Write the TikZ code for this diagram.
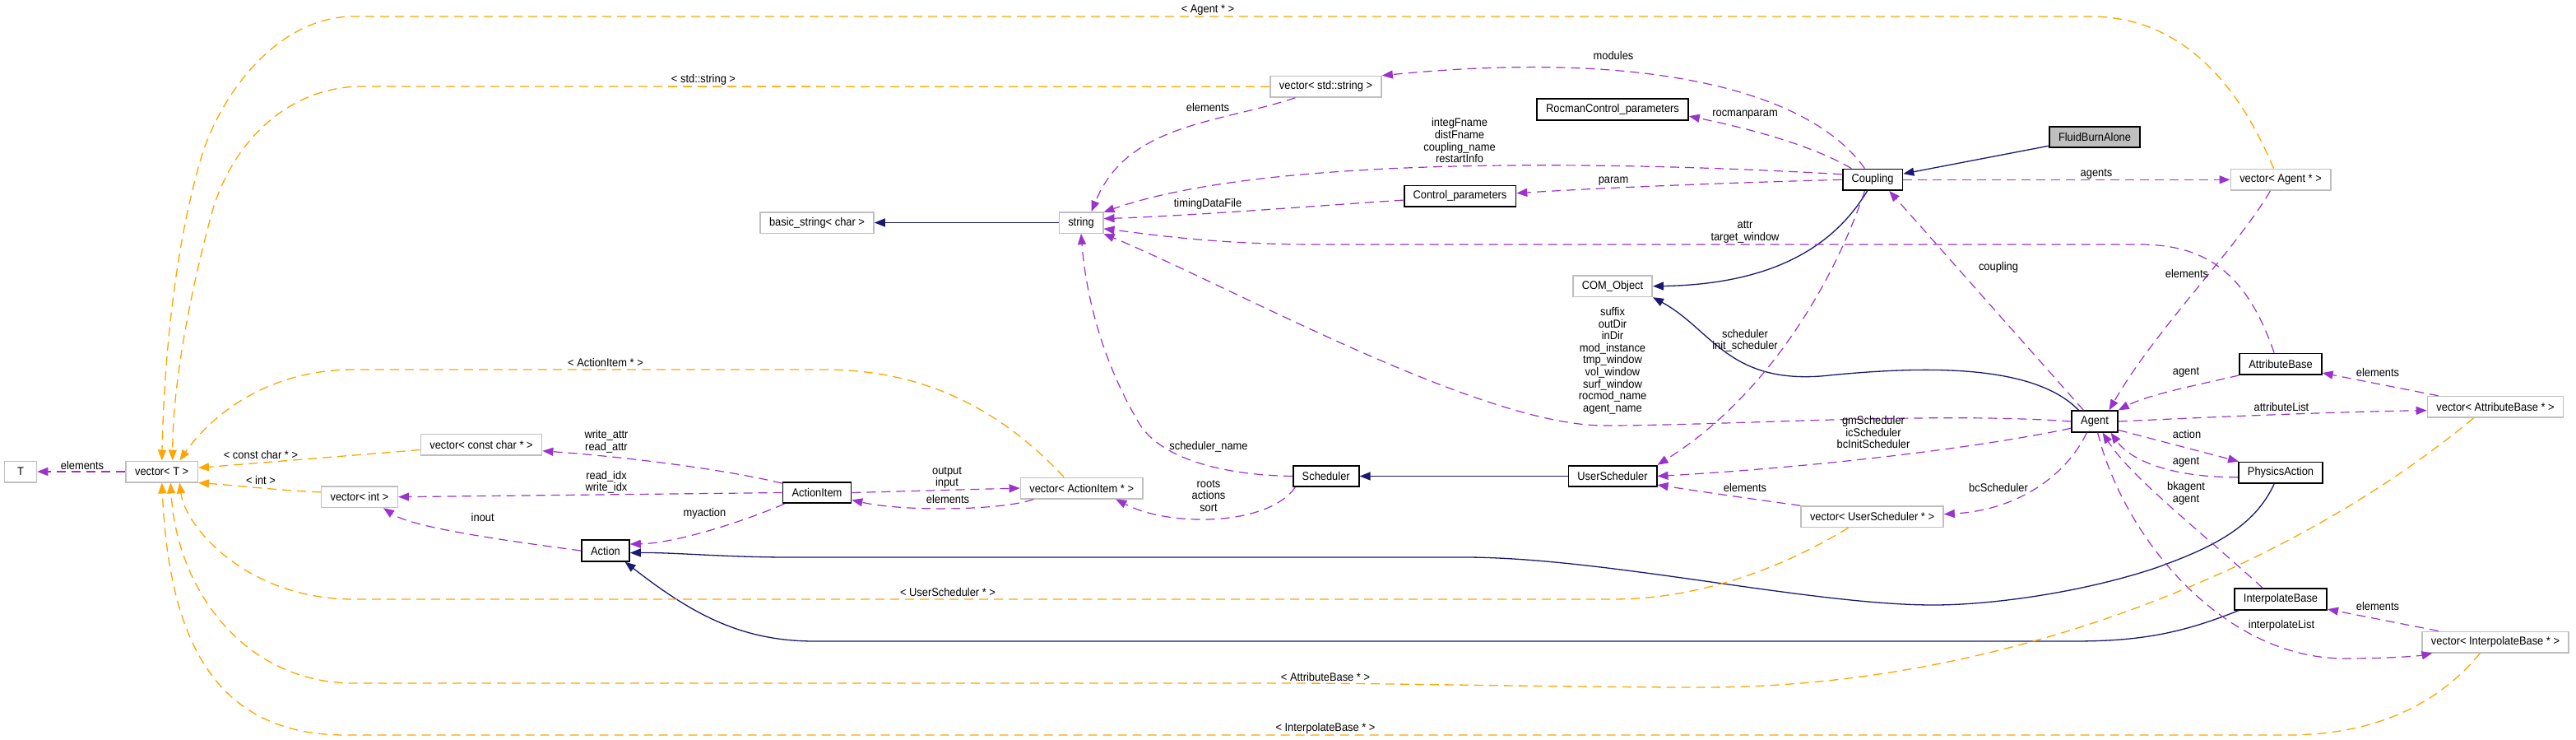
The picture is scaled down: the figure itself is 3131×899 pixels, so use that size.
\documentclass[tikz,border=0pt]{standalone}
\usepackage{fontspec}
\setmainfont[FakeStretch=0.92]{Liberation Sans}
\usepackage{xcolor}
\usetikzlibrary{arrows.meta}
\definecolor{isablue}{HTML}{191970}
\definecolor{usepurple}{HTML}{9A32CD}
\definecolor{tmplorange}{HTML}{FFA500}
\definecolor{boxgray}{HTML}{BFBFBF}
\newcommand{\dgfont}{\fontsize{7pt}{7.3pt}\selectfont}

\begin{document}
\begin{tikzpicture}[x=0.5pt,y=-0.5pt,>={Triangle[length=6.5pt,width=5pt]},
  cls/.style={draw=black,line width=0.9pt,fill=white,minimum height=12.75pt,minimum width=19.5pt,
              inner xsep=5.5pt,inner ysep=0pt,font=\dgfont},
  ext/.style={cls,draw=boxgray,line width=0.75pt},
  lbl/.style={inner sep=0pt,align=center,font=\dgfont},
  isa/.style={->,color=isablue,line width=0.65pt},
  uses/.style={->,color=usepurple,line width=0.6pt,dash pattern=on 5.5pt off 3.5pt},
  inst/.style={->,color=tmplorange,line width=0.65pt,dash pattern=on 5.5pt off 3.5pt}]
  \useasboundingbox (0,0) rectangle (3131,899);

  \node[cls,fill=boxgray] (fba) at (2546,166.5) {FluidBurnAlone};
  \node[cls] (coupling) at (2276,218.3) {Coupling};
  \node[cls] (rocman) at (1960,133) {RocmanControl\_parameters};
  \node[cls] (ctrl) at (1774.5,238.3) {Control\_parameters};
  \node[ext] (vstr) at (1611.5,105.3) {vector< std::string >};
  \node[ext] (str) at (1314,270.5) {string};
  \node[ext] (bstr) at (993,270.5) {basic\_string< char >};
  \node[ext] (vagent) at (2772,218.3) {vector< Agent * >};
  \node[ext] (com) at (1960,347.7) {COM\_Object};
  \node[cls] (agent) at (2546,512) {Agent};
  \node[cls] (attr) at (2772,442.3) {AttributeBase};
  \node[ext] (vattr) at (3033,494.3) {vector< AttributeBase * >};
  \node[cls] (phys) at (2772,574.3) {PhysicsAction};
  \node[cls] (usched) at (1960,578.5) {UserScheduler};
  \node[cls] (sched) at (1611.7,578.5) {Scheduler};
  \node[ext] (vusched) at (2275.5,627.7) {vector< UserScheduler * >};
  \node[cls] (interp) at (2772,728) {InterpolateBase};
  \node[ext] (vinterp) at (3033,780) {vector< InterpolateBase * >};
  \node[ext] (t) at (25,573) {T};
  \node[ext] (vt) at (196.7,573) {vector< T >};
  \node[ext] (vcc) at (585,540) {vector< const char * >};
  \node[ext] (vint) at (437,603.7) {vector< int >};
  \node[cls] (aitem) at (993,598.5) {ActionItem};
  \node[ext] (vaitem) at (1314.7,593) {vector< ActionItem * >};
  \node[cls] (action) at (736,669) {Action};

  \draw[isa] (fba) -- (coupling);
  \draw[isa] (coupling.-115) .. controls (2240,280) and (2180,345) .. (com.east);
  \draw[isa] (agent.145) .. controls (2470,440) and (2330,445) .. (2213,457) .. controls (2100,465) and (2080,400) .. (com.south east);
  \draw[isa] (str) -- (bstr);
  \draw[isa] (usched) -- (sched);
  \draw[isa] (phys.-120) .. controls (2740,640) and (2690,665) .. (2620,690) .. controls (2530,720) and (2420,735) .. (2350,735)
    .. controls (2200,735) and (1950,677) .. (1780,677) -- (960,677) .. controls (880,677) and (820,671) .. (action.-5);
  \draw[isa] (interp.-165) .. controls (2650,770) and (2600,779) .. (2520,779) -- (990,779) .. controls (900,779) and (840,745) .. (action.-30);

  \draw[uses] (coupling.125) .. controls (2200,110) and (2000,60) .. (vstr.north east);
  \draw[uses] (coupling.152) .. controls (2200,175) and (2120,155) .. (rocman.-5);
  \draw[uses] (coupling.170) .. controls (2000,198) and (1550,185) .. (str.25);
  \draw[uses] (coupling.west) .. controls (2100,222) and (1950,228) .. (ctrl.3);
  \draw[uses] (ctrl.-176) .. controls (1600,250) and (1450,262) .. (str.10);
  \draw[uses] (vstr.-160) .. controls (1480,150) and (1370,150) .. (str.47);
  \draw[uses] (coupling) -- (vagent);
  \draw[uses] (attr.120) .. controls (2730,330) and (2680,297) .. (2600,297) -- (1600,297) .. controls (1480,297) and (1400,285) .. (str.-15);
  \draw[uses] (coupling.-125) .. controls (2230,340) and (2150,480) .. (usched.north east);
  \draw[uses] (agent.135) -- (coupling.-34);
  \draw[uses] (vagent.-133) .. controls (2720,300) and (2620,400) .. (agent.38);
  \draw[uses] (agent.west) .. controls (2350,500) and (2100,517) .. (1950,517) .. controls (1800,517) and (1500,350) .. (str.south east);
  \draw[uses] (agent.-164) .. controls (2400,545) and (2200,568) .. (usched.east);
  \draw[uses] (attr.south west) .. controls (2660,470) and (2610,480) .. (agent.north east);
  \draw[uses] (vattr.169) -- (attr.-12);
  \draw[uses] (agent.east) .. controls (2700,506) and (2850,500) .. (vattr.-177);
  \draw[uses] (agent.-20) -- (phys.165);
  \draw[uses] (phys.-174) .. controls (2640,580) and (2590,560) .. (agent.-35);
  \draw[uses] (agent.-125) .. controls (2510,580) and (2450,620) .. (vusched.2);
  \draw[uses] (vusched.north west) .. controls (2120,605) and (2060,596) .. (usched.-11);
  \draw[uses] (interp.148) .. controls (2680,650) and (2590,580) .. (agent.-55);
  \draw[uses] (agent.-75) .. controls (2580,650) and (2700,800) .. (2850,800) .. controls (2900,800) and (2940,797) .. (vinterp.-170);
  \draw[uses] (vinterp.169) -- (interp.-12);
  \draw[uses] (vt) -- (t);
  \draw[uses] (aitem.165) .. controls (880,570) and (760,555) .. (vcc.-6);
  \draw[uses] (aitem.west) -- (vint.east);
  \draw[uses] (aitem.east) -- (vaitem.west);
  \draw[uses] (vaitem.-167) .. controls (1220,620) and (1100,622) .. (aitem.-12);
  \draw[uses] (aitem.-161) .. controls (900,635) and (820,660) .. (action.15);
  \draw[uses] (action.west) .. controls (600,655) and (500,640) .. (vint.-25);
  \draw[uses] (sched.-160) .. controls (1540,640) and (1420,640) .. (vaitem.-18);
  \draw[uses] (sched.west) .. controls (1480,577) and (1410,555) .. (1385,515) .. controls (1340,440) and (1320,360) .. (str.south);

  \draw[inst] (vagent.122) .. controls (2720,100) and (2650,20) .. (2540,20) -- (430,20) .. controls (340,20) and (270,110) .. (245,190)
    .. controls (215,290) and (200,420) .. (vt.north);
  \draw[inst] (vstr.west) -- (440,105) .. controls (360,105) and (290,160) .. (260,250) .. controls (240,320) and (210,450) .. (vt.46);
  \draw[inst] (vaitem.148) .. controls (1200,480) and (1100,449) .. (1000,449) -- (430,449) .. controls (330,449) and (260,500) .. (vt.32);
  \draw[inst] (vcc.-175) -- (vt.6);
  \draw[inst] (vint.173) .. controls (330,595) and (290,590) .. (vt.south east);
  \draw[inst] (vusched.-155) .. controls (2150,700) and (2050,728) .. (1960,728) -- (430,728) .. controls (300,728) and (225,640) .. (vt.-32);
  \draw[inst] (vattr.-153) .. controls (2800,680) and (2450,835) .. (2070,835) .. controls (1900,835) and (1700,830) .. (1560,830)
    -- (430,830) .. controls (300,830) and (215,720) .. (vt.-52);
  \draw[inst] (vinterp.-144) .. controls (2960,860) and (2880,893) .. (2780,893) -- (420,893) .. controls (250,893) and (205,760) .. (vt.south);

  \node[lbl] (l-agentvec) at (1468,12) {< Agent * >};
  \node[lbl] (l-stdstring) at (855,96.7) {< std::string >};
  \node[lbl] (l-elemstr) at (1468,130.7) {elements};
  \node[lbl] (l-timing) at (1468,248.3) {timingDataFile};
  \node[lbl] (l-modules) at (1961,67.7) {modules};
  \node[lbl] (l-rocman) at (2121,138.7) {rocmanparam};
  \node[lbl] (l-names) at (1774,170.7) {integFname\\distFname\\coupling\_name\\restartInfo};
  \node[lbl] (l-param) at (1961,220) {param};
  \node[lbl] (l-attr) at (2121,281.8) {attr\\target\_window};
  \node[lbl] (l-agents) at (2548,211) {agents};
  \node[lbl] (l-suffix) at (1960,438.3) {suffix\\outDir\\inDir\\mod\_instance\\tmp\_window\\vol\_window\\surf\_window\\rocmod\_name\\agent\_name};
  \node[lbl] (l-sched) at (2121,413.8) {scheduler\\init\_scheduler};
  \node[lbl] (l-gm) at (2277,525) {gmScheduler\\icScheduler\\bcInitScheduler};
  \node[lbl] (l-elemus) at (2121,592) {elements};
  \node[lbl] (l-coupling) at (2429,325) {coupling};
  \node[lbl] (l-elemag) at (2658,332) {elements};
  \node[lbl] (l-agent1) at (2657,452) {agent};
  \node[lbl] (l-elemab) at (2890,452.7) {elements};
  \node[lbl] (l-attrlist) at (2773,494.3) {attributeList};
  \node[lbl] (l-action) at (2658,527.7) {action};
  \node[lbl] (l-agent2) at (2657,561) {agent};
  \node[lbl] (l-bk) at (2657,599.3) {bkagent\\agent};
  \node[lbl] (l-bc) at (2429,592) {bcScheduler};
  \node[lbl] (l-ilist) at (2773,760) {interpolateList};
  \node[lbl] (l-elemib) at (2890,736.7) {elements};
  \node[lbl] (l-elemt) at (100,565) {elements};
  \node[lbl] (l-aitemvec) at (736,440.7) {< ActionItem * >};
  \node[lbl] (l-cc) at (317,552.3) {< const char * >};
  \node[lbl] (l-int) at (317,583) {< int >};
  \node[lbl] (l-rwattr) at (737,536.3) {write\_attr\\read\_attr};
  \node[lbl] (l-rwidx) at (737,585.9) {read\_idx\\write\_idx};
  \node[lbl] (l-io) at (1151,580.5) {output\\input};
  \node[lbl] (l-elemai) at (1152,606.3) {elements};
  \node[lbl] (l-schedname) at (1469,542.7) {scheduler\_name};
  \node[lbl] (l-roots) at (1469,602.2) {roots\\actions\\sort};
  \node[lbl] (l-myaction) at (856.5,624) {myaction};
  \node[lbl] (l-inout) at (586.7,628.7) {inout};
  \node[lbl] (l-us) at (1152,719.7) {< UserScheduler * >};
  \node[lbl] (l-ab) at (1611,822.3) {< AttributeBase * >};
  \node[lbl] (l-ib) at (1611,884.7) {< InterpolateBase * >};
\end{tikzpicture}
\end{document}
